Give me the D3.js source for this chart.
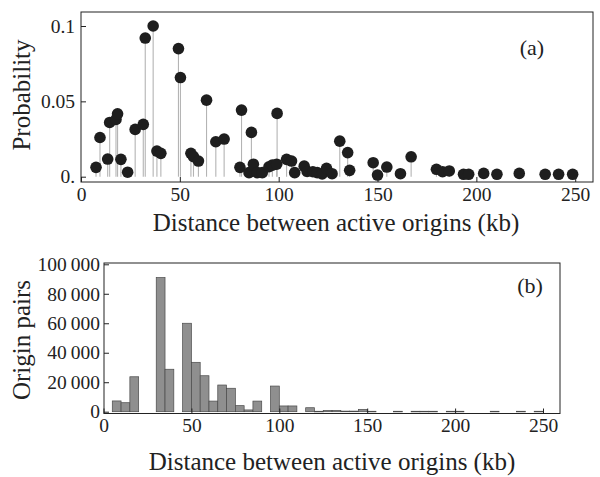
<!DOCTYPE html>
<html><head><meta charset="utf-8">
<script src="https://cdn.jsdelivr.net/npm/d3@7"></script>
<style>
body{margin:0;background:#fff;}
text{font-family:"Liberation Serif","DejaVu Serif",serif;fill:#222;}
</style></head>
<body><svg id="c" width="600" height="477"></svg>
<script>
// Panel (a): probability vs distance (kb)
const probDist = [7.6,9.6,13.5,14.5,17.7,18.5,20.2,23.6,27.4,31.5,32.5,36.5,38.4,40.4,49.3,50.3,55.6,56.9,59.4,63.5,68.2,72.4,80.4,81.2,85.0,86.2,87.2,89.2,91.7,95.1,96.8,99.0,99.2,104.0,106.5,108.1,112.9,114.4,117.3,119.5,122.0,124.2,127.0,130.9,134.9,135.9,147.8,150.0,154.7,161.6,167.0,179.8,182.9,186.3,193.5,196.1,203.7,210.4,221.7,234.8,241.6,248.7];
const probValue = [0.0062,0.026,0.0117,0.036,0.038,0.0417,0.0115,0.003,0.0314,0.0347,0.092,0.100,0.017,0.0155,0.085,0.0658,0.0155,0.0133,0.0104,0.0508,0.0232,0.025,0.0062,0.0442,0.0027,0.0294,0.0083,0.0027,0.0027,0.0066,0.0077,0.0083,0.042,0.0115,0.0104,0.0027,0.007,0.0035,0.0033,0.0027,0.0018,0.0055,0.002,0.0236,0.016,0.0042,0.0093,0.0011,0.0064,0.002,0.0132,0.0049,0.0033,0.0038,0.0016,0.0016,0.0022,0.0016,0.0022,0.0016,0.0016,0.0016];
// Panel (b): histogram of origin pairs, 5 kb bins starting at 0
const binStart = d3.range(0, 250, 5);
const binCount = [0,7300,6100,23700,0,0,91000,28800,0,60000,33500,24400,7200,18100,15900,4100,1200,7200,0,17400,3900,3900,0,2700,300,900,900,400,400,1600,300,0,0,300,0,300,300,300,0,300,300,0,0,0,300,0,0,300,0,300];
const xTicks = [0,50,100,150,200,250];
const probTicks = [0,0.05,0.1];
const probTickLabels = ["0.","0.05","0.1"];
const pairTicks = [0,20000,40000,60000,80000,100000];
const pairTickLabels = ["0","20\u2009000","40\u2009000","60\u2009000","80\u2009000","100\u2009000"];
const xTitle = "Distance between active origins (kb)";

const svg = d3.select("#c");
const TICK_FS = 19.5, TITLE_FS = 25, TAG_FS = 22;

// ---------- Panel (a)
const A = {l:81, r:593, t:12, b:182};
const xa = d3.scaleLinear().domain([0,259]).range([A.l, A.r]);
const ya = d3.scaleLinear().domain([0,0.1]).range([176.7, 26]);
const ga = svg.append("g");
const pts = probDist.map((d,i)=>({x:d, y:probValue[i]}));
ga.selectAll("line.stem").data(pts).join("line")
  .attr("x1",d=>xa(d.x)).attr("x2",d=>xa(d.x))
  .attr("y1",ya(0)).attr("y2",d=>ya(d.y))
  .attr("stroke","#b4b4b4").attr("stroke-width",1.1);
ga.selectAll("circle").data(pts).join("circle")
  .attr("cx",d=>xa(d.x)).attr("cy",d=>ya(d.y)).attr("r",5.8)
  .attr("fill","#1e1e1e");
ga.append("rect").attr("x",A.l).attr("y",A.t).attr("width",A.r-A.l).attr("height",A.b-A.t)
  .attr("fill","none").attr("stroke","#222").attr("stroke-width",1);
const axA = ga.append("g").attr("transform",`translate(0,${A.b})`)
  .call(d3.axisBottom(xa).tickValues(xTicks).tickSize(-5).tickPadding(5));
const ayA = ga.append("g").attr("transform",`translate(${A.l},0)`)
  .call(d3.axisLeft(ya).tickValues(probTicks).tickFormat((d,i)=>probTickLabels[i]).tickSize(-5).tickPadding(6));
[axA, ayA].forEach(g=>{g.select(".domain").remove();
  g.selectAll("text").attr("font-size",TICK_FS).style("font-family","Liberation Serif").attr("fill","#222");
  g.selectAll("line").attr("stroke","#222");});
ga.append("text").attr("x",336).attr("y",231).attr("text-anchor","middle").attr("font-size",TITLE_FS).text(xTitle);
ga.append("text").attr("transform","translate(30,95) rotate(-90)").attr("text-anchor","middle").attr("font-size",TITLE_FS).text("Probability");
ga.append("text").attr("x",532).attr("y",55).attr("text-anchor","middle").attr("font-size",TAG_FS).text("(a)");

// ---------- Panel (b)
const B = {l:104, r:560, t:263, b:413.5};
const xb = d3.scaleLinear().domain([0,250]).range([103.5, 543]);
const yb = d3.scaleLinear().domain([0,100000]).range([411.7, 264.3]);
const gb = svg.append("g");
const bins = binStart.map((s,i)=>({s, c:binCount[i]})).filter(d=>d.c>0);
gb.selectAll("rect.bar").data(bins).join("rect")
  .attr("x",d=>xb(d.s)).attr("width",d=>xb(d.s+5)-xb(d.s))
  .attr("y",d=>yb(d.c)).attr("height",d=>Math.max(0.6, yb(0)-yb(d.c)))
  .attr("fill","#8f8f8f").attr("stroke","#4a4a4a").attr("stroke-width",0.7);
gb.append("rect").attr("x",B.l).attr("y",B.t).attr("width",B.r-B.l).attr("height",B.b-B.t)
  .attr("fill","none").attr("stroke","#222").attr("stroke-width",1);
const axB = gb.append("g").attr("transform",`translate(0,${B.b})`)
  .call(d3.axisBottom(xb).tickValues(xTicks).tickSize(-5).tickPadding(5));
const ayB = gb.append("g").attr("transform",`translate(${B.l},0)`)
  .call(d3.axisLeft(yb).tickValues(pairTicks).tickFormat((d,i)=>pairTickLabels[i]).tickSize(-5).tickPadding(4));
[axB, ayB].forEach(g=>{g.select(".domain").remove();
  g.selectAll("text").attr("font-size",TICK_FS).style("font-family","Liberation Serif").attr("fill","#222");
  g.selectAll("line").attr("stroke","#222");});
gb.append("text").attr("x",332).attr("y",470).attr("text-anchor","middle").attr("font-size",TITLE_FS).text(xTitle);
gb.append("text").attr("transform","translate(30,340) rotate(-90)").attr("text-anchor","middle").attr("font-size",TITLE_FS).text("Origin pairs");
gb.append("text").attr("x",530).attr("y",293).attr("text-anchor","middle").attr("font-size",TAG_FS).text("(b)");
</script></body></html>
